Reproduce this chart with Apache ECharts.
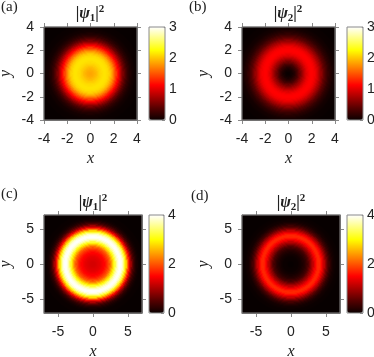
<!DOCTYPE html>
<html>
<head>
<meta charset="utf-8">
<script src="https://cdn.jsdelivr.net/npm/echarts@6/dist/echarts.min.js"></script>
<style>
  html, body { margin: 0; padding: 0; background: #fff; }
  #chart { width: 374px; height: 357px; }
</style>
</head>
<body>
<div id="chart"></div>
<script>
// radial profiles of |psi|^2 (value at r = index * step)
const stepTop = 0.1
const stepBottom = 0.175
const profileA = [1.85, 1.855, 1.87, 1.89, 1.92, 1.95, 1.98, 2.02, 2.05, 2.08, 2.1, 2.12, 2.13, 2.13, 2.12, 2.1, 2.06, 2.0, 1.92, 1.82,
  1.7, 1.57, 1.43, 1.29, 1.14, 1.0, 0.85, 0.71, 0.58, 0.47, 0.37, 0.29, 0.22, 0.17, 0.12, 0.09, 0.06, 0.045, 0.03, 0.022,
  0.015, 0.01, 0.007, 0.004, 0.002]
const profileB = [0, 0.005, 0.02, 0.045, 0.08, 0.125, 0.18, 0.25, 0.32, 0.41, 0.5, 0.59, 0.68, 0.77, 0.85, 0.93, 1.0, 1.06, 1.1, 1.12,
  1.13, 1.12, 1.1, 1.06, 1.0, 0.93, 0.85, 0.77, 0.68, 0.59, 0.5, 0.42, 0.35, 0.29, 0.23, 0.18, 0.14, 0.11, 0.08, 0.06,
  0.045, 0.03, 0.02, 0.015, 0.01, 0.006, 0.003]
const profileC = [1.25, 1.25, 1.26, 1.28, 1.3, 1.33, 1.36, 1.4, 1.45, 1.51, 1.58, 1.67, 1.78, 1.93, 2.1, 2.33, 2.6, 2.9, 3.2, 3.5,
  3.75, 3.92, 4.0, 3.97, 3.85, 3.6, 3.25, 2.82, 2.35, 1.86, 1.4, 1.02, 0.7, 0.46, 0.3, 0.18, 0.1, 0.055, 0.03, 0.016,
  0.008, 0.004]
const profileD = [0, 0.001, 0.003, 0.006, 0.01, 0.018, 0.03, 0.047, 0.07, 0.1, 0.14, 0.19, 0.26, 0.35, 0.45, 0.59, 0.75, 0.92, 1.1, 1.28,
  1.45, 1.6, 1.72, 1.75, 1.7, 1.56, 1.38, 1.17, 0.95, 0.74, 0.55, 0.39, 0.27, 0.18, 0.11, 0.07, 0.04, 0.02, 0.01, 0.005]

// axis ticks
const ticksTop = [-4, -2, 0, 2, 4]
const ticksBottom = [-5, 0, 5]
const colorTicksTop = [0, 1, 2, 3]
const colorTicksBottom = [0, 2, 4]

// 'hot' colormap
const hotColors = ['#0b0000', '#550000', '#aa0000', '#ff0000', '#ff5500', '#ffaa00', '#ffff00', '#ffff80', '#ffffff']

const lineColor = '#8a8a8a'
const textColor = '#222'
const sans = 'Liberation Sans'
const serif = 'Liberation Serif'

// one image cell per screen pixel, so the grid sizes are whole pixels
const panels = [
  { tag: '(a)', sub: '1', profile: profileA, step: stepTop, half: 4, ticks: ticksTop, cticks: colorTicksTop,
    grid: { left: 44, top: 27, width: 93, height: 93 }, bar: { left: 149, top: 27, width: 16, height: 93 },
    tagPos: [1, 0], titleX: 90, titleY: 4 },
  { tag: '(b)', sub: '2', profile: profileB, step: stepTop, half: 4, ticks: ticksTop, cticks: colorTicksTop,
    grid: { left: 242, top: 27, width: 93, height: 93 }, bar: { left: 347, top: 27, width: 16, height: 93 },
    tagPos: [189, 0], titleX: 288, titleY: 4 },
  { tag: '(c)', sub: '1', profile: profileC, step: stepBottom, half: 7, ticks: ticksBottom, cticks: colorTicksBottom,
    grid: { left: 44, top: 215, width: 98, height: 98 }, bar: { left: 149, top: 215, width: 15, height: 98 },
    tagPos: [1, 187], titleX: 93, titleY: 193 },
  { tag: '(d)', sub: '2', profile: profileD, step: stepBottom, half: 7, ticks: ticksBottom, cticks: colorTicksBottom,
    grid: { left: 242, top: 215, width: 98, height: 98 }, bar: { left: 347, top: 215, width: 16, height: 98 },
    tagPos: [191, 189], titleX: 291, titleY: 193 },
]

// build the image cells from a radial profile (nearest sample)
const buildCells = (p, n) => {
  const d = (2 * p.half) / n
  const out = []
  for (let i = 0; i < n; i++) {
    for (let j = 0; j < n; j++) {
      const x = -p.half + d * (i + 0.5)
      const y = -p.half + d * (j + 0.5)
      const idx = Math.round(Math.sqrt(x * x + y * y) / p.step)
      out.push([i, j, p.profile[idx] || 0])
    }
  }
  return out
}

const grid = []
const xAxis = []
const yAxis = []
const series = []
const visualMap = []
const title = []

const labelStyle = { color: textColor, fontSize: 14, fontFamily: sans }
const nameStyle = { color: textColor, fontSize: 16, fontFamily: serif, fontStyle: 'italic' }
const tickStyle = { show: true, inside: false, length: 4, lineStyle: { color: lineColor } }
const lineStyle = { show: true, onZero: false, lineStyle: { color: lineColor } }

panels.forEach((p, k) => {
  const g = 2 * k
  const n = p.grid.width
  grid.push({ ...p.grid, outerBoundsMode: 'none', containLabel: false, show: true, borderColor: lineColor, borderWidth: 1, backgroundColor: 'transparent', z: 5 })
  grid.push({ ...p.bar, outerBoundsMode: 'none', containLabel: false, show: true, borderColor: lineColor, borderWidth: 1, backgroundColor: 'transparent', z: 6 })

  const cats = Array.from({ length: n }, (_, i) => i)
  const xCat = xAxis.length
  xAxis.push({ type: 'category', gridIndex: g, data: cats, show: false })
  const valueAxis = {
    type: 'value', min: -p.half, max: p.half, splitLine: { show: false },
    axisTick: { ...tickStyle, customValues: p.ticks },
  }
  xAxis.push({ ...valueAxis, gridIndex: g, position: 'bottom', axisLine: lineStyle,
    axisLabel: { ...labelStyle, margin: 12, customValues: p.ticks },
    name: 'x', nameLocation: 'middle', nameGap: 31, nameTextStyle: nameStyle })
  xAxis.push({ ...valueAxis, gridIndex: g, position: 'top', axisLine: lineStyle, axisLabel: { show: false } })
  xAxis.push({ type: 'category', gridIndex: g + 1, data: ['c'], show: false })

  const yCat = yAxis.length
  yAxis.push({ type: 'category', gridIndex: g, data: cats, show: false })
  yAxis.push({ ...valueAxis, gridIndex: g, position: 'left', axisLine: lineStyle,
    axisLabel: { ...labelStyle, margin: 10, customValues: p.ticks },
    name: 'y', nameLocation: 'middle', nameGap: 30, nameTextStyle: nameStyle })
  yAxis.push({ ...valueAxis, gridIndex: g, position: 'right', axisLine: lineStyle, axisLabel: { show: false } })
  const cmax = p.cticks[p.cticks.length - 1]
  yAxis.push({ type: 'value', gridIndex: g + 1, position: 'right', min: 0, max: cmax, interval: p.cticks[1],
    splitLine: { show: false }, axisLine: { show: false },
    axisTick: { show: true, inside: true, length: 3, lineStyle: { color: lineColor } },
    axisLabel: { ...labelStyle, margin: 4 } })

  series.push({
    type: 'heatmap', xAxisIndex: xCat, yAxisIndex: yCat, data: buildCells(p, n),
    progressive: 0, itemStyle: { borderWidth: 0 }, emphasis: { disabled: true },
  })

  visualMap.push({
    type: 'continuous', seriesIndex: k, min: 0, max: cmax, calculable: false,
    left: p.bar.left, top: p.bar.top, itemWidth: p.bar.width, itemHeight: p.bar.height,
    padding: 0, text: null, inRange: { color: hotColors }, hoverLink: false,
  })

  title.push({
    text: '{v||}{i|ψ}{s|' + p.sub + '}{v||}{p|2}', left: p.titleX, top: p.titleY, textAlign: 'center', padding: 0,
    textStyle: {
      rich: {
        v: { fontFamily: serif, fontSize: 16, color: textColor, lineHeight: 20, verticalAlign: 'middle' },
        i: { fontFamily: serif, fontSize: 16, fontStyle: 'italic', color: textColor, lineHeight: 20, verticalAlign: 'middle' },
        s: { fontFamily: serif, fontSize: 11, color: textColor, lineHeight: 11, verticalAlign: 'bottom' },
        p: { fontFamily: serif, fontSize: 11, color: textColor, lineHeight: 11, verticalAlign: 'top' },
      },
    },
  })
  title.push({
    text: p.tag, left: p.tagPos[0], top: p.tagPos[1], padding: 0,
    textStyle: { fontFamily: serif, fontSize: 15, fontWeight: 'normal', color: textColor },
  })
})

const chart = echarts.init(document.getElementById('chart'))
chart.setOption({
  animation: false,
  backgroundColor: '#fff',
  title,
  grid,
  xAxis,
  yAxis,
  visualMap,
  series,
})
</script>
</body>
</html>
